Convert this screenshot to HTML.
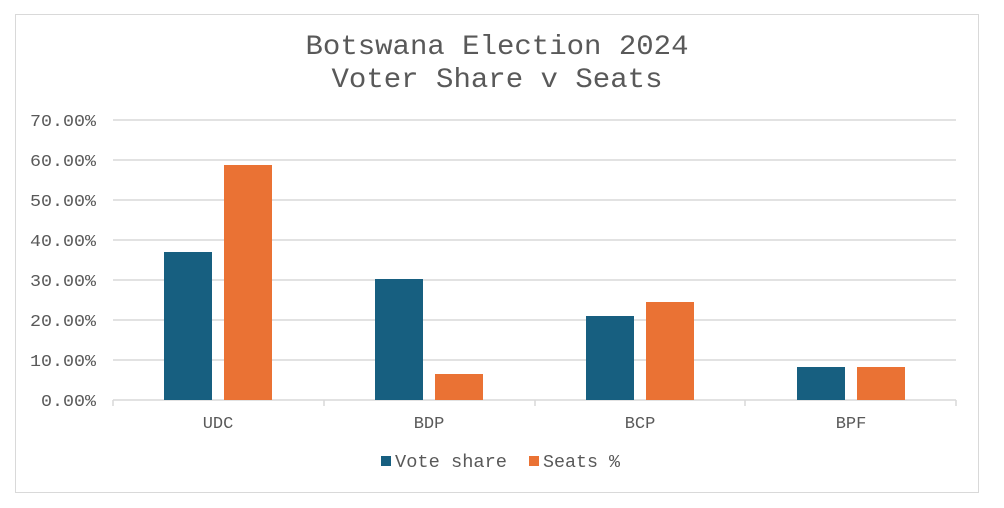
<!DOCTYPE html>
<html><head><style>html,body{margin:0;padding:0;background:#fff;}svg{display:block;}</style></head>
<body>
<svg width="1004" height="508" viewBox="0 0 1004 508" xmlns="http://www.w3.org/2000/svg" font-family="'Liberation Mono', monospace" fill="#595959">
<rect x="15.5" y="14.5" width="963" height="478" fill="#fff" stroke="#d9d9d9"/>
<text x="497" y="54" font-size="28" text-anchor="middle" textLength="383" lengthAdjust="spacingAndGlyphs">Botswana Election 2024</text>
<text x="497" y="87" font-size="28" text-anchor="middle" textLength="331" lengthAdjust="spacingAndGlyphs">Voter Share v Seats</text>
<g stroke="#d9d9d9" stroke-width="1.5">
<line x1="113" x2="956" y1="120" y2="120"/>
<line x1="113" x2="956" y1="160" y2="160"/>
<line x1="113" x2="956" y1="200" y2="200"/>
<line x1="113" x2="956" y1="240" y2="240"/>
<line x1="113" x2="956" y1="280" y2="280"/>
<line x1="113" x2="956" y1="320" y2="320"/>
<line x1="113" x2="956" y1="360" y2="360"/>
<line x1="113" x2="956" y1="400" y2="400"/>
<line x1="113" x2="113" y1="400" y2="406"/>
<line x1="324" x2="324" y1="400" y2="406"/>
<line x1="535" x2="535" y1="400" y2="406"/>
<line x1="745" x2="745" y1="400" y2="406"/>
<line x1="956" x2="956" y1="400" y2="406"/>
</g>
<g font-size="17" text-anchor="end">
<text x="96" y="126" textLength="66" lengthAdjust="spacingAndGlyphs">70.00%</text>
<text x="96" y="166" textLength="66" lengthAdjust="spacingAndGlyphs">60.00%</text>
<text x="96" y="206" textLength="66" lengthAdjust="spacingAndGlyphs">50.00%</text>
<text x="96" y="246" textLength="66" lengthAdjust="spacingAndGlyphs">40.00%</text>
<text x="96" y="286" textLength="66" lengthAdjust="spacingAndGlyphs">30.00%</text>
<text x="96" y="326" textLength="66" lengthAdjust="spacingAndGlyphs">20.00%</text>
<text x="96" y="366" textLength="66" lengthAdjust="spacingAndGlyphs">10.00%</text>
<text x="96" y="406" textLength="55" lengthAdjust="spacingAndGlyphs">0.00%</text>
</g>
<g fill="#175f80">
<rect x="164" y="252" width="48" height="148"/>
<rect x="375" y="279" width="48" height="121"/>
<rect x="586" y="316" width="48" height="84"/>
<rect x="797" y="367" width="48" height="33"/>
</g>
<g fill="#ea7234">
<rect x="224" y="165" width="48" height="235"/>
<rect x="435" y="374" width="48" height="26"/>
<rect x="646" y="302" width="48" height="98"/>
<rect x="857" y="367" width="48" height="33"/>
</g>
<g font-size="17" text-anchor="middle">
<text x="218" y="428">UDC</text>
<text x="429" y="428">BDP</text>
<text x="640" y="428">BCP</text>
<text x="851" y="428">BPF</text>
</g>
<rect x="381" y="456" width="10" height="10" fill="#175f80"/>
<text x="395" y="467" font-size="18" textLength="112" lengthAdjust="spacingAndGlyphs">Vote share</text>
<rect x="529" y="456" width="10" height="10" fill="#ea7234"/>
<text x="543" y="467" font-size="18" textLength="77" lengthAdjust="spacingAndGlyphs">Seats %</text>
</svg>
</body></html>
